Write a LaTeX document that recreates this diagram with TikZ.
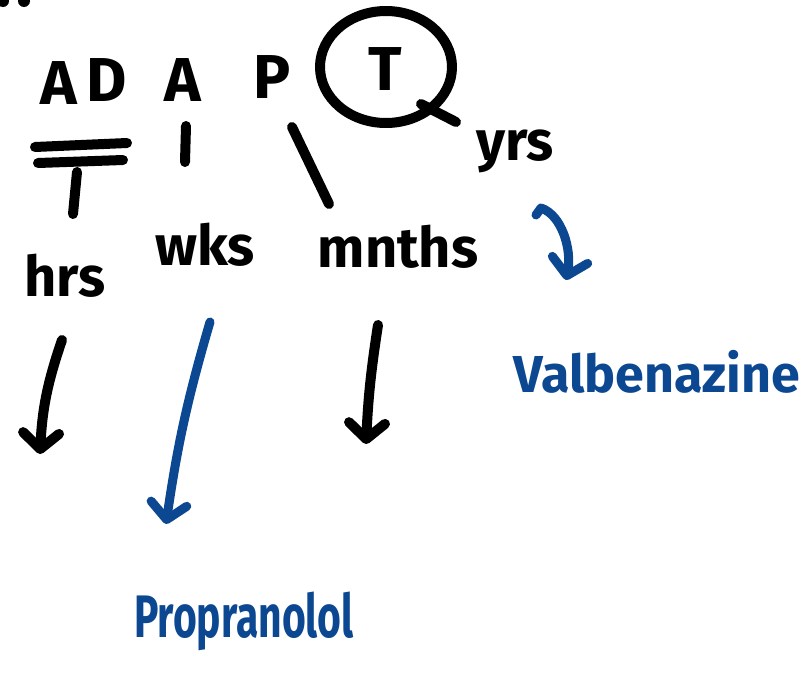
\documentclass[tikz,border=0pt]{standalone}
\usepackage{fontspec}
\setmainfont{Fira Sans}
\usetikzlibrary{arrows.meta}
\definecolor{inkblue}{RGB}{12,72,145}
\begin{document}
\begin{tikzpicture}[x=1pt,y=-1pt,
  ink/.style={line width=10pt, line cap=round, line join=round},
  blueink/.style={ink, draw=inkblue, line width=9pt},
  barb/.style={-{Straight Barb[length=16pt,width=36pt,round]}},
  capital/.style={font=\fontsize{62}{70}\selectfont\bfseries, inner sep=0pt, anchor=base},
  lower/.style={font=\fontsize{56}{64}\selectfont\bfseries, inner sep=0pt, anchor=base},
  bluetext/.style={text=inkblue, inner sep=0pt, anchor=base}]
\fill[white] (0,0) rectangle (804,691);
\useasboundingbox (0,0) rectangle (804,691);
% cut-off marks at top left
\fill (3,1) circle (6pt);
\fill (24,1) circle (6pt);
% ADAPT letters
\node[capital] (a1) at (59,104) {A};
\node[capital] (d) at (107,101) {D};
\node[capital] (a2) at (183,101) {A};
\node[capital] (p) at (272,98) {P};
\node[capital] (t) at (385,90) {T};
\draw[ink] (386,67) ellipse [x radius=66pt, y radius=56pt];
\coordinate (tailA) at (421,104);
\coordinate (tailB) at (456,122);
\draw[ink] (tailA) -- (tailB);
% time labels
\node[lower] (hrs) at (65,296) {hrs};
\node[lower] (wks) at (205,265) {wks};
\node[lower] (mnths) at (398,267) {mnths};
\node[lower] (yrs) at (515,160) {yrs};
% connectors from letters to labels
\coordinate (u1a) at (35,147); \coordinate (u1b) at (127,143);
\coordinate (u2a) at (38,163); \coordinate (u2b) at (123,160);
\draw[ink] (u1a) -- (u1b);
\draw[ink] (u2a) -- (u2b);
\coordinate (v1a) at (77,172); \coordinate (v1b) at (73,214);
\draw[ink] (v1a) -- (v1b);
\coordinate (v2a) at (186,126); \coordinate (v2b) at (185,162);
\draw[ink] (v2a) -- (v2b);
\coordinate (v3a) at (292,127); \coordinate (v3b) at (329,204);
\draw[ink] (v3a) -- (v3b);
% treatment labels
\node[bluetext, font=\fontsize{52}{60}\selectfont\bfseries] (valb) at (657,392) {Valbenazine};
\node[bluetext, font=\fontsize{60}{66}\selectfont\bfseries] (prop) at (244,637) {\scalebox{0.68}[1]{Propranolol}};
% arrows
\coordinate (ar1a) at (62,340); \coordinate (ar1b) at (40,454);
\draw[ink, barb] (ar1a) to[bend right=8] (ar1b);
\coordinate (ar3a) at (378,325); \coordinate (ar3b) at (366,444);
\draw[ink, barb] (ar3a) to[bend right=3] (ar3b);
\coordinate (ar2a) at (210,322); \coordinate (ar2b) at (166,524);
\draw[blueink, barb] (ar2a) to[bend right=4] (ar2b);
\coordinate (ar4h) at (536,215); \coordinate (ar4a) at (541,208); \coordinate (ar4b) at (566,280);
\draw[blueink, barb] (ar4h) -- (ar4a) .. controls (562,215) and (572,250) .. (ar4b);
\end{tikzpicture}
\end{document}
